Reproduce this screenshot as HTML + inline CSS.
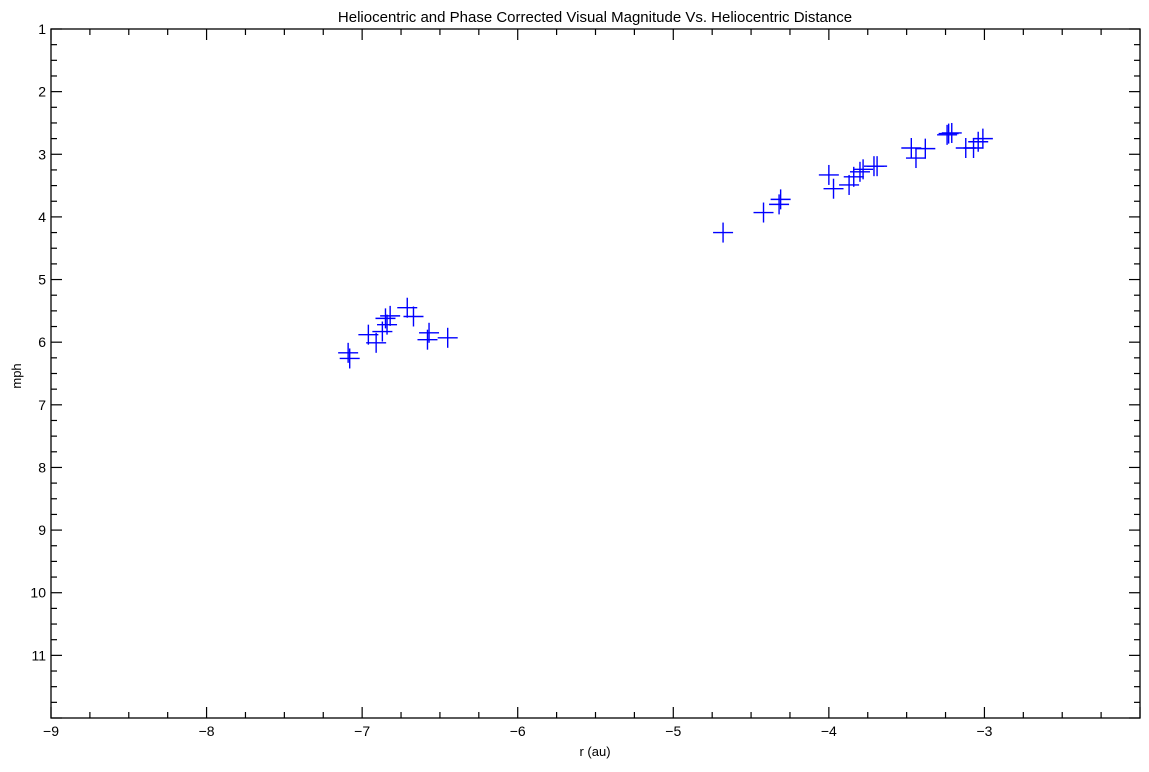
<!DOCTYPE html>
<html><head><meta charset="utf-8"><style>
body{margin:0;background:#fff;}
text{font-family:"Liberation Sans",sans-serif;font-size:13px;fill:#000;}
.tl{font-size:14px;}
</style></head><body>
<svg id="chart" width="1149" height="767" xmlns="http://www.w3.org/2000/svg">
<text x="595" y="22" text-anchor="middle" style="font-size:15px">Heliocentric and Phase Corrected Visual Magnitude Vs. Heliocentric Distance</text>
<text x="595" y="756" text-anchor="middle">r (au)</text>
<text transform="translate(21,376) rotate(-90)" text-anchor="middle">mph</text>
<g id="ticks"></g>
<g id="marks"></g>
<rect x="51" y="29" width="1089" height="689" fill="none" stroke="#000" stroke-width="1.3"/>
</svg>
<script>
const rValues=[-7.09,-7.08,-6.96,-6.91,-6.87,-6.84,-6.85,-6.82,-6.71,-6.67,-6.57,-6.58,-6.45,
-4.68,-4.42,-4.32,-4.31,-4.00,-3.97,-3.87,-3.84,-3.80,-3.78,-3.71,-3.69,-3.47,-3.44,-3.38,-3.24,-3.23,-3.21,-3.12,-3.07,-3.04,-3.01];
const mphValues=[6.17,6.26,5.88,6.01,5.83,5.72,5.62,5.58,5.45,5.59,5.85,5.96,5.93,
4.25,3.93,3.80,3.72,3.33,3.55,3.49,3.36,3.28,3.24,3.19,3.19,2.90,3.06,2.91,2.69,2.67,2.66,2.90,2.90,2.80,2.75];
const xTicks=[-9,-8,-7,-6,-5,-4,-3];
const yTicks=[1,2,3,4,5,6,7,8,9,10,11];
const L=51,R=1140,T=29,B=718,xMin=-9,xMax=-2,yMin=1,yMax=12;
const X=v=>L+(v-xMin)/(xMax-xMin)*(R-L);
const Y=v=>T+(v-yMin)/(yMax-yMin)*(B-T);
const NS='http://www.w3.org/2000/svg';
const tg=document.getElementById('ticks'),mg=document.getElementById('marks');
function ln(g,x1,y1,x2,y2,c,w){const l=document.createElementNS(NS,'line');l.setAttribute('x1',x1);l.setAttribute('y1',y1);l.setAttribute('x2',x2);l.setAttribute('y2',y2);l.setAttribute('stroke',c);l.setAttribute('stroke-width',w);g.appendChild(l);return l;}
for(let v=xMin;v<=xMax+1e-9;v+=0.25){const x=X(v);const maj=Math.abs(v-Math.round(v))<1e-6;const len=maj?11:6;
 const a=ln(tg,x,B,x,B-len,'#000',1.2);
 const b=ln(tg,x,T,x,T+len,'#000',1.2);}
for(let v=yMin;v<=yMax+1e-9;v+=0.25){const y=Y(v);const maj=Math.abs(v-Math.round(v))<1e-6;const len=maj?11:6;
 const a=ln(tg,L,y,L+len,y,'#000',1.2);
 const b=ln(tg,R,y,R-len,y,'#000',1.2);}
xTicks.forEach(v=>{const t=document.createElementNS(NS,'text');t.setAttribute('x',X(v));t.setAttribute('y',B+18);t.setAttribute('text-anchor','middle');t.setAttribute('class','tl');t.textContent='\u2212'+Math.abs(v);


tg.appendChild(t);});
yTicks.forEach(v=>{const t=document.createElementNS(NS,'text');t.setAttribute('x',L-5);t.setAttribute('y',Y(v)+5);t.setAttribute('text-anchor','end');t.setAttribute('class','tl');t.textContent=v;


tg.appendChild(t);});
rValues.forEach((r,i)=>{const x=X(r),y=Y(mphValues[i]);const g=document.createElementNS(NS,'g');


ln(g,x-10,y,x+10,y,'#0000ff',1.4);ln(g,x,y-10,x,y+10,'#0000ff',1.4);mg.appendChild(g);});
</script>
</body></html>
